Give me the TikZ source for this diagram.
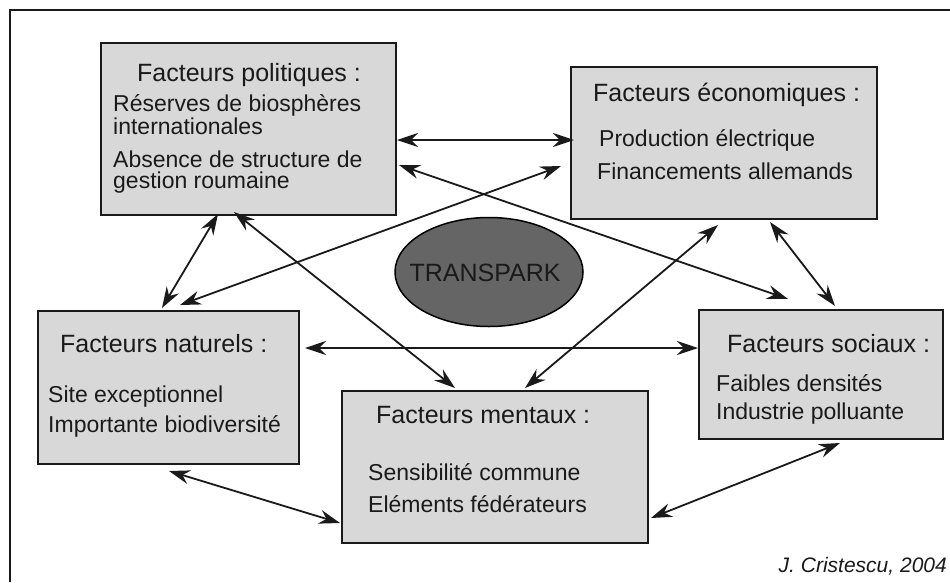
\documentclass[tikz,border=0pt]{standalone}
\usepackage{fontspec}
\setmainfont{Liberation Sans}
\usetikzlibrary{arrows.meta,shapes.geometric}
\definecolor{boxfill}{HTML}{D8D8D8}
\definecolor{ellfill}{HTML}{656565}
\definecolor{ink}{HTML}{1A1A1A}
\tikzset{
  x=1pt, y=-1pt,
  box/.style={draw=ink, line width=2.2pt, fill=boxfill, inner sep=0pt, anchor=north west},
  ttl/.style={anchor=base west, inner sep=0pt, font=\fontsize{25}{30}\selectfont, text=ink},
  txt/.style={anchor=base west, inner sep=0pt, font=\fontsize{23}{27}\selectfont, text=ink},
  tip/.style={Stealth[length=21pt,width=14pt,inset=7pt]},
  link/.style={draw=ink, line width=1.8pt, {Stealth[length=21pt,width=14pt,inset=7pt]}-{Stealth[length=21pt,width=14pt,inset=7pt]}},
}
\begin{document}
\begin{tikzpicture}
\useasboundingbox (0,0) rectangle (950,582);
\fill[white] (0,0) rectangle (950,582);
\draw[ink, line width=2pt] (10,582) -- (10,10) -- (950,10);

% boxes
\node[box, minimum width=295pt, minimum height=172pt] (pol) at (100,42) {};
\node[box, minimum width=306pt, minimum height=152pt] (eco) at (570,66) {};
\node[box, minimum width=261pt, minimum height=153pt] (nat) at (37,310) {};
\node[box, minimum width=306pt, minimum height=152pt] (men) at (341,390) {};
\node[box, minimum width=244pt, minimum height=129pt] (soc) at (698,309) {};

% ellipse
\node[ellipse, draw=black, line width=1.5pt, fill=ellfill, minimum width=188pt, minimum height=109pt, inner sep=0pt] (tp) at (489,272) {};
\node[anchor=base, inner sep=0pt, font=\fontsize{25}{30}\selectfont, text=ink] (tptxt) at (485,281) {TRANSPARK};

% texts
\node[ttl] (polT) at (137,81) {Facteurs politiques :};
\node[txt] (polA) at (113,111) {Réserves de biosphères};
\node[txt] (polB) at (113,134) {internationales};
\node[txt] (polC) at (113,167) {Absence de structure de};
\node[txt] (polD) at (113,188) {gestion roumaine};

\node[ttl] (ecoT) at (593,101) {Facteurs économiques :};
\node[txt] (ecoA) at (599,146) {Production électrique};
\node[txt] (ecoB) at (597,179) {Financements allemands};

\node[ttl] (natT) at (60,352) {Facteurs naturels :};
\node[txt] (natA) at (48,402) {Site exceptionnel};
\node[txt] (natB) at (48,432) {Importante biodiversité};

\node[ttl] (menT) at (376,423) {Facteurs mentaux :};
\node[txt] (menA) at (368,480) {Sensibilité commune};
\node[txt] (menB) at (368,512) {Eléments fédérateurs};

\node[ttl] (socT) at (727,352) {Facteurs sociaux :};
\node[txt] (socA) at (716,391) {Faibles densités};
\node[txt] (socB) at (716,419) {Industrie polluante};

\node[anchor=base east, inner sep=0pt, font=\fontsize{21}{25}\selectfont\itshape, text=ink] (credit) at (947,572) {J. Cristescu, 2004};

% connector end points
\coordinate (p1) at (397,140); \coordinate (e1) at (574,140);
\coordinate (p2) at (399,165); \coordinate (s2) at (788,299);
\coordinate (e3) at (561,166); \coordinate (n3) at (180,305);
\coordinate (p4) at (218,214); \coordinate (n4) at (162,308);
\coordinate (p5) at (234,212); \coordinate (m5) at (455,388);
\coordinate (e6) at (718,225); \coordinate (m6) at (525,388);
\coordinate (e7) at (770,222); \coordinate (s7) at (835,306);
\coordinate (n8) at (305,348); \coordinate (s8) at (698,348);
\coordinate (n9) at (169,471); \coordinate (m9) at (340,523);
\coordinate (m10) at (651,518); \coordinate (s10) at (840,443);

\draw[link] (p1) -- (e1);
\draw[link] (p2) -- (s2);
\draw[link] (e3) -- (n3);
\draw[link] (p4) -- (n4);
\draw[link] (p5) -- (m5);
\draw[link] (e6) -- (m6);
\draw[link] (e7) -- (s7);
\draw[link] (n8) -- (s8);
\draw[link] (n9) -- (m9);
\draw[link] (m10) -- (s10);
\end{tikzpicture}
\end{document}
